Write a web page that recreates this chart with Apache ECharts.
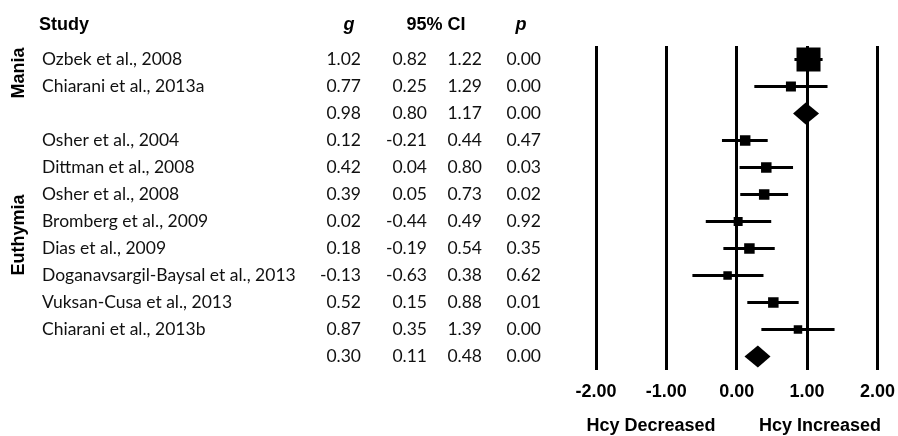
<!DOCTYPE html>
<html>
<head>
<meta charset="utf-8">
<script src="https://cdn.jsdelivr.net/npm/echarts@6/dist/echarts.min.js"></script>
<style>
  html, body { margin: 0; padding: 0; background: #ffffff; }
  #chart { width: 898px; height: 436px; }
</style>
</head>
<body>
<div id="chart"></div>
<script>
// ---- data ----
const studies = ['Ozbek et al., 2008', 'Chiarani et al., 2013a', '', 'Osher et al., 2004', 'Dittman et al., 2008',
  'Osher et al., 2008', 'Bromberg et al., 2009', 'Dias et al., 2009', 'Doganavsargil-Baysal et al., 2013',
  'Vuksan-Cusa et al., 2013', 'Chiarani et al., 2013b', ''];
const rowType = ['study', 'study', 'pooled', 'study', 'study', 'study', 'study', 'study', 'study', 'study', 'study', 'pooled'];
const gValues = [1.02, 0.77, 0.98, 0.12, 0.42, 0.39, 0.02, 0.18, -0.13, 0.52, 0.87, 0.30];
const ciLow = [0.82, 0.25, 0.80, -0.21, 0.04, 0.05, -0.44, -0.19, -0.63, 0.15, 0.35, 0.11];
const ciHigh = [1.22, 1.29, 1.17, 0.44, 0.80, 0.73, 0.49, 0.54, 0.38, 0.88, 1.39, 0.48];
const pValues = ['0.00', '0.00', '0.00', '0.47', '0.03', '0.02', '0.92', '0.35', '0.62', '0.01', '0.00', '0.00'];
const relWeight = [2.4, 1.0, null, 1.05, 1.05, 1.05, 0.9, 1.05, 0.85, 1.05, 0.85, null];
const groups = ['Mania', 'Euthymia'];
const groupFirstRow = [0, 3];
const groupLastRow = [1, 10];
const headers = ['Study', 'g', '95% CI', 'p'];
const xTicks = [-2, -1, 0, 1, 2];
const directionLabels = ['Hcy Decreased', 'Hcy Increased'];

// ---- styles / layout ----
const BODY_FONT = 'Lato, "Liberation Sans", sans-serif';
const BOLD_FONT = '"Liberation Sans", Arial, sans-serif';
const BODY_SIZE = 17.5;
const SQUARE_BASE = 10;
const DIAMOND_HALF_H = 11;

const rowIds = studies.map((s, i) => String(i));

const chart = echarts.init(document.getElementById('chart'), null, { renderer: 'canvas' });

const cell = (w, align) => ({ width: w, align: align, fontFamily: BODY_FONT, fontSize: BODY_SIZE, color: '#111' });

const option = {
  backgroundColor: '#ffffff',
  animation: false,
  grid: { left: 596, right: 19, top: 46, bottom: 66, containLabel: false },
  xAxis: {
    type: 'value',
    min: xTicks[0],
    max: xTicks[xTicks.length - 1],
    interval: 1,
    axisLine: { show: false },
    axisTick: { show: false },
    splitLine: { show: true, lineStyle: { color: '#000', width: 3 } },
    axisLabel: {
      margin: 13,
      fontFamily: BOLD_FONT,
      fontWeight: 'bold',
      fontSize: 18,
      color: '#000',
      formatter: v => v.toFixed(2)
    }
  },
  yAxis: {
    type: 'category',
    inverse: true,
    data: rowIds,
    axisLine: { show: false },
    axisTick: { show: false },
    splitLine: { show: false },
    axisLabel: {
      interval: 0,
      margin: 55,
      color: '#111',
      fontFamily: BODY_FONT,
      fontSize: BODY_SIZE,
      formatter: (v) => {
        const i = Number(v);
        const name = studies[i] === '' ? ' ' : studies[i];
        return '{n|' + name + '}{g|' + gValues[i].toFixed(2) + '}{l|' + ciLow[i].toFixed(2) +
          '}{h|' + ciHigh[i].toFixed(2) + '}{p|' + pValues[i] + '}';
      },
      rich: {
        n: cell(279, 'left'),
        g: cell(40, 'right'),
        l: cell(66, 'right'),
        h: cell(55, 'right'),
        p: cell(59, 'right')
      }
    }
  },
  series: [
    {
      type: 'custom',
      name: 'CI',
      data: studies.map((s, i) => [ciLow[i], ciHigh[i], i]).filter((d, i) => rowType[i] === 'study'),
      encode: { x: [0, 1], y: 2 },
      renderItem: (params, api) => {
        const a = api.coord([api.value(0), api.value(2)]);
        const b = api.coord([api.value(1), api.value(2)]);
        return {
          type: 'line',
          shape: { x1: a[0], y1: a[1], x2: b[0], y2: b[1] },
          style: { stroke: '#000', lineWidth: 3 }
        };
      },
      z: 3
    },
    {
      type: 'scatter',
      name: 'Studies',
      symbol: 'rect',
      data: studies.map((s, i) => [gValues[i], i, relWeight[i]]).filter((d, i) => rowType[i] === 'study'),
      symbolSize: d => d[2] * SQUARE_BASE,
      itemStyle: { color: '#000', opacity: 1 },
      z: 4
    },
    {
      type: 'custom',
      name: 'Pooled',
      data: studies.map((s, i) => [gValues[i], ciLow[i], ciHigh[i], i]).filter((d, i) => rowType[i] === 'pooled'),
      encode: { x: [0, 1, 2], y: 3 },
      renderItem: (params, api) => {
        const c = api.coord([api.value(0), api.value(3)]);
        const l = api.coord([api.value(1), api.value(3)]);
        const r = api.coord([api.value(2), api.value(3)]);
        return {
          type: 'polygon',
          shape: { points: [[l[0], c[1]], [c[0], c[1] - DIAMOND_HALF_H], [r[0], c[1]], [c[0], c[1] + DIAMOND_HALF_H]] },
          style: { fill: '#000' }
        };
      },
      z: 5
    }
  ]
};

chart.setOption(option);

// ---- text elements (headers, group labels, direction labels) ----
const headerX = [39, 349, 436, 521];
const graphics = [];
headers.forEach((h, i) => {
  graphics.push({
    type: 'text',
    x: headerX[i],
    y: 25,
    style: {
      text: h,
      fontFamily: BOLD_FONT,
      fontWeight: 'bold',
      fontStyle: (h === 'g' || h === 'p') ? 'italic' : 'normal',
      fontSize: 18,
      fill: '#000',
      textAlign: i === 0 ? 'left' : 'center',
      textVerticalAlign: 'middle'
    }
  });
});
groups.forEach((gname, i) => {
  const y1 = chart.convertToPixel({ yAxisIndex: 0 }, rowIds[groupFirstRow[i]]);
  const y2 = chart.convertToPixel({ yAxisIndex: 0 }, rowIds[groupLastRow[i]]);
  graphics.push({
    type: 'text',
    x: 19,
    y: (y1 + y2) / 2,
    rotation: Math.PI / 2,
    style: {
      text: gname,
      fontFamily: BOLD_FONT,
      fontWeight: 'bold',
      fontSize: 18,
      fill: '#000',
      textAlign: 'center',
      textVerticalAlign: 'middle'
    }
  });
});
const dirX = [651, 820];
directionLabels.forEach((t, i) => {
  graphics.push({
    type: 'text',
    x: dirX[i],
    y: 426,
    style: {
      text: t,
      fontFamily: BOLD_FONT,
      fontWeight: 'bold',
      fontSize: 18,
      fill: '#000',
      textAlign: 'center',
      textVerticalAlign: 'middle'
    }
  });
});
chart.setOption({ graphic: graphics });
</script>
</body>
</html>
